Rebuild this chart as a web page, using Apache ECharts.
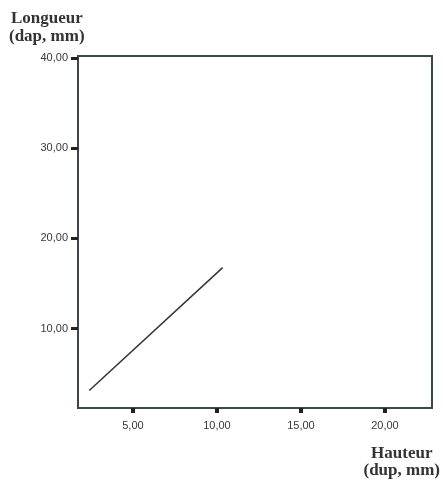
<!DOCTYPE html>
<html>
<head>
<meta charset="utf-8">
<script src="https://cdn.jsdelivr.net/npm/echarts@6/dist/echarts.min.js"></script>
<style>
html,body{margin:0;padding:0;background:#fff;}
#chart{width:443px;height:480px;}
</style>
</head>
<body>
<div id="chart"></div>
<script>
var hauteur = [2.4, 10.34];
var longueur = [3.15, 16.77];
var xTicks = [5, 10, 15, 20];
var yTicks = [10, 20, 30, 40];
var xTitle = "Hauteur\n(dup, mm)";
var yTitle = "Longueur\n(dap, mm)";

function fmt(v){ return v.toFixed(2).replace('.', ','); }

var chart = echarts.init(document.getElementById('chart'), null, {renderer:'canvas'});
var frame = '#3a474f';
chart.setOption({
  animation: false,
  backgroundColor: '#ffffff',
  grid: {left: 78, right: 11, top: 56, bottom: 72, show: true, borderColor: frame, borderWidth: 2, backgroundColor: 'transparent'},
  xAxis: {
    type: 'value', min: 1.73, max: 22.8,
    axisLine: {show: true, onZero: false, lineStyle: {color: frame, width: 2}},
    axisTick: {show: true, customValues: xTicks, length: 5, inside: false, lineStyle: {color: '#222', width: 4}},
    axisLabel: {customValues: xTicks, formatter: fmt, margin: 12, fontFamily: 'Liberation Sans', fontSize: 11, color: '#383838'},
    splitLine: {show: false}
  },
  yAxis: {
    type: 'value', min: 1.22, max: 40.2,
    axisLine: {show: true, onZero: false, lineStyle: {color: frame, width: 2}},
    axisTick: {show: true, customValues: yTicks, length: 7, lineStyle: {color: '#222', width: 3}},
    axisLabel: {customValues: yTicks, formatter: fmt, margin: 10, fontFamily: 'Liberation Sans', fontSize: 11, color: '#383838'},
    splitLine: {show: false}
  },
  graphic: [
    {type: 'text', left: 9, top: 10, style: {text: yTitle, font: 'bold 17px "Liberation Serif"', fill: '#333', textAlign: 'center', lineHeight: 18}},
    {type: 'text', right: 3, top: 445, style: {text: xTitle, font: 'bold 17px "Liberation Serif"', fill: '#333', textAlign: 'center', lineHeight: 17}}
  ],
  series: [{
    type: 'line',
    data: hauteur.map(function(x, i){ return [x, longueur[i]]; }),
    symbol: 'none',
    lineStyle: {color: '#333', width: 1.5}
  }]
});
</script>
</body>
</html>
